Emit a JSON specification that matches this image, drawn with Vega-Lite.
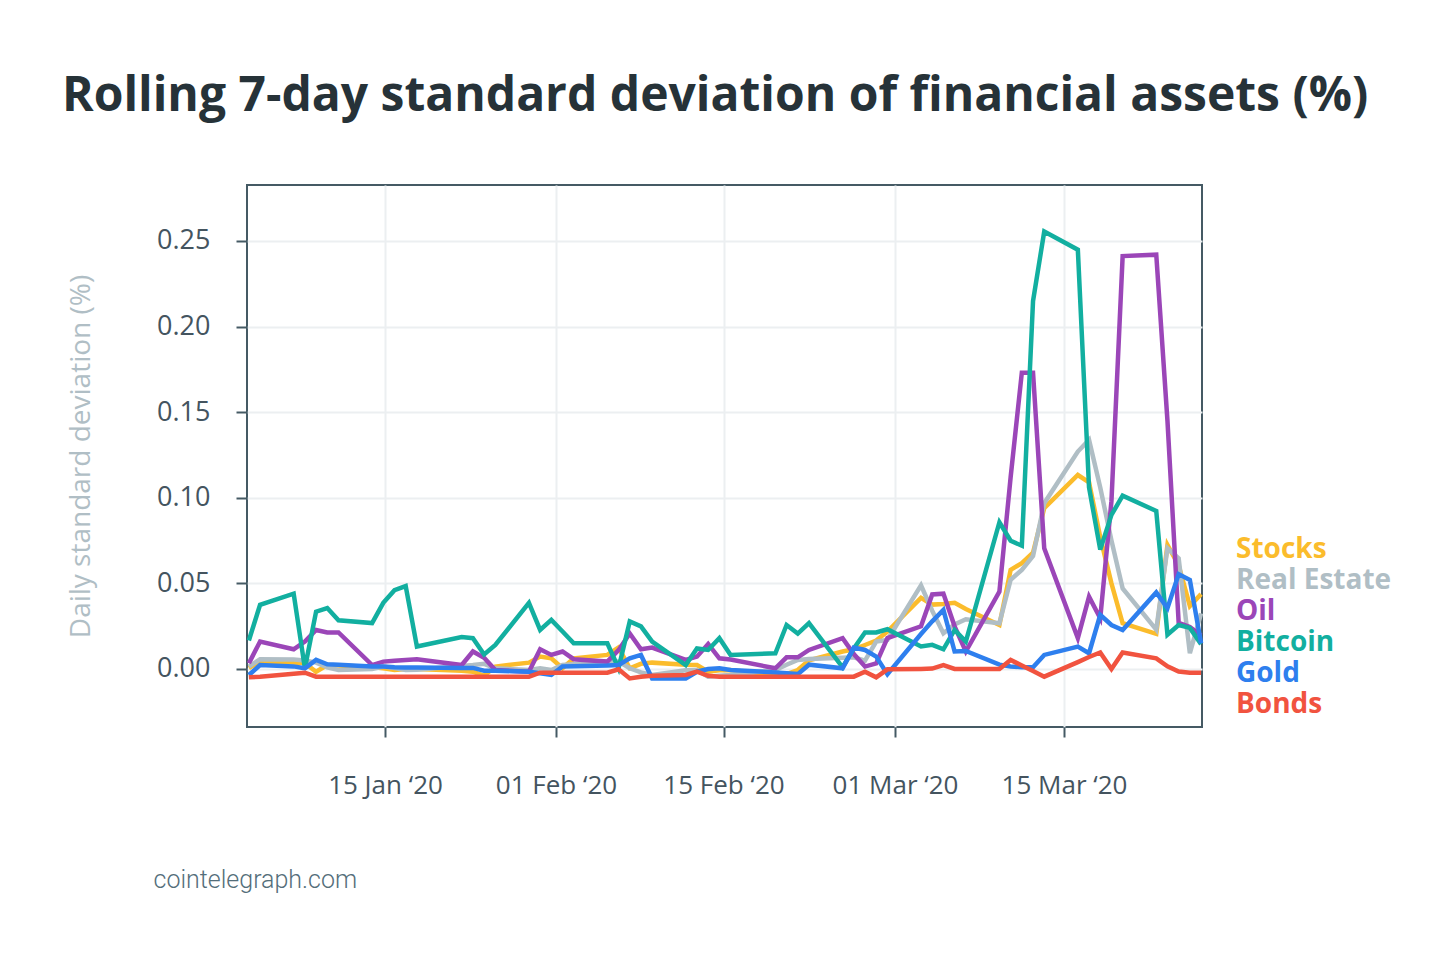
{
"$schema": "https://vega.github.io/schema/vega-lite/v6.json",
"width": 955,
"height": 542,
"autosize": {"type": "none"},
"padding": {"left": 247, "top": 185, "right": 248, "bottom": 234},
"background": "white",
"title": {"text": "Rolling 7-day standard deviation of financial assets (%)", "anchor": "start", "frame": "group", "dx": -185, "offset": 26, "baseline": "alphabetic", "font": "Open Sans", "fontSize": 48, "fontWeight": "bold", "color": "#263238"},
"config": {
  "view": {"stroke": "#455A64", "strokeWidth": 2},
  "axis": {"domain": false, "grid": true, "gridColor": "#ECEFF1", "gridWidth": 2, "tickColor": "#455A64", "tickWidth": 2, "labelFont": "Open Sans", "labelFontSize": 26, "labelColor": "#44545F"}
},
"data": {"values": [
{"date":"2020-01-02T00:00","asset":"Stocks","sd":0.0006},
{"date":"2020-01-03T00:00","asset":"Stocks","sd":0.0043},
{"date":"2020-01-06T00:00","asset":"Stocks","sd":0.0038},
{"date":"2020-01-07T00:00","asset":"Stocks","sd":0.0033},
{"date":"2020-01-08T00:00","asset":"Stocks","sd":-0.0016},
{"date":"2020-01-09T00:00","asset":"Stocks","sd":0.0023},
{"date":"2020-01-10T00:00","asset":"Stocks","sd":0.002},
{"date":"2020-01-13T00:00","asset":"Stocks","sd":0.0012},
{"date":"2020-01-14T00:00","asset":"Stocks","sd":0.0004},
{"date":"2020-01-15T00:00","asset":"Stocks","sd":-0.0006},
{"date":"2020-01-16T00:00","asset":"Stocks","sd":0.0},
{"date":"2020-01-17T00:00","asset":"Stocks","sd":0.0},
{"date":"2020-01-21T00:00","asset":"Stocks","sd":-0.001},
{"date":"2020-01-22T00:00","asset":"Stocks","sd":-0.0016},
{"date":"2020-01-23T00:00","asset":"Stocks","sd":-0.004},
{"date":"2020-01-24T00:00","asset":"Stocks","sd":0.0014},
{"date":"2020-01-27T00:00","asset":"Stocks","sd":0.0037},
{"date":"2020-01-28T00:00","asset":"Stocks","sd":0.0072},
{"date":"2020-01-29T00:00","asset":"Stocks","sd":0.0062},
{"date":"2020-01-30T00:00","asset":"Stocks","sd":0.0004},
{"date":"2020-01-31T00:00","asset":"Stocks","sd":0.0062},
{"date":"2020-02-03T00:00","asset":"Stocks","sd":0.0082},
{"date":"2020-02-04T00:00","asset":"Stocks","sd":0.0125},
{"date":"2020-02-05T00:00","asset":"Stocks","sd":0.0004},
{"date":"2020-02-06T00:00","asset":"Stocks","sd":0.003},
{"date":"2020-02-07T00:00","asset":"Stocks","sd":0.0037},
{"date":"2020-02-10T00:00","asset":"Stocks","sd":0.0025},
{"date":"2020-02-11T00:00","asset":"Stocks","sd":0.0023},
{"date":"2020-02-12T00:00","asset":"Stocks","sd":-0.0016},
{"date":"2020-02-13T00:00","asset":"Stocks","sd":-0.0008},
{"date":"2020-02-14T00:00","asset":"Stocks","sd":-0.0006},
{"date":"2020-02-18T00:00","asset":"Stocks","sd":-0.0035},
{"date":"2020-02-19T00:00","asset":"Stocks","sd":-0.003},
{"date":"2020-02-20T00:00","asset":"Stocks","sd":-0.0006},
{"date":"2020-02-21T00:00","asset":"Stocks","sd":0.005},
{"date":"2020-02-24T00:00","asset":"Stocks","sd":0.0102},
{"date":"2020-02-25T00:00","asset":"Stocks","sd":0.0115},
{"date":"2020-02-26T00:00","asset":"Stocks","sd":0.014},
{"date":"2020-02-27T00:00","asset":"Stocks","sd":0.0166},
{"date":"2020-02-28T00:00","asset":"Stocks","sd":0.0219},
{"date":"2020-03-02T00:00","asset":"Stocks","sd":0.0415},
{"date":"2020-03-03T00:00","asset":"Stocks","sd":0.0376},
{"date":"2020-03-04T00:00","asset":"Stocks","sd":0.038},
{"date":"2020-03-05T00:00","asset":"Stocks","sd":0.0386},
{"date":"2020-03-06T00:00","asset":"Stocks","sd":0.035},
{"date":"2020-03-09T00:00","asset":"Stocks","sd":0.0257},
{"date":"2020-03-10T00:00","asset":"Stocks","sd":0.0579},
{"date":"2020-03-11T00:00","asset":"Stocks","sd":0.0618},
{"date":"2020-03-12T00:00","asset":"Stocks","sd":0.068},
{"date":"2020-03-13T00:00","asset":"Stocks","sd":0.0939},
{"date":"2020-03-16T00:00","asset":"Stocks","sd":0.1133},
{"date":"2020-03-17T00:00","asset":"Stocks","sd":0.109},
{"date":"2020-03-18T00:00","asset":"Stocks","sd":0.077},
{"date":"2020-03-19T00:00","asset":"Stocks","sd":0.05},
{"date":"2020-03-20T00:00","asset":"Stocks","sd":0.0267},
{"date":"2020-03-23T00:00","asset":"Stocks","sd":0.0205},
{"date":"2020-03-24T00:00","asset":"Stocks","sd":0.0724},
{"date":"2020-03-25T00:00","asset":"Stocks","sd":0.0605},
{"date":"2020-03-26T00:00","asset":"Stocks","sd":0.0368},
{"date":"2020-03-27T00:00","asset":"Stocks","sd":0.0437},
{"date":"2020-01-02T00:00","asset":"Real Estate","sd":0.0014},
{"date":"2020-01-03T00:00","asset":"Real Estate","sd":0.0057},
{"date":"2020-01-06T00:00","asset":"Real Estate","sd":0.0055},
{"date":"2020-01-07T00:00","asset":"Real Estate","sd":0.005},
{"date":"2020-01-08T00:00","asset":"Real Estate","sd":0.0037},
{"date":"2020-01-09T00:00","asset":"Real Estate","sd":0.001},
{"date":"2020-01-10T00:00","asset":"Real Estate","sd":-0.0006},
{"date":"2020-01-13T00:00","asset":"Real Estate","sd":0.0},
{"date":"2020-01-14T00:00","asset":"Real Estate","sd":0.0014},
{"date":"2020-01-15T00:00","asset":"Real Estate","sd":0.0005},
{"date":"2020-01-16T00:00","asset":"Real Estate","sd":-0.0006},
{"date":"2020-01-17T00:00","asset":"Real Estate","sd":-0.0004},
{"date":"2020-01-21T00:00","asset":"Real Estate","sd":0.0018},
{"date":"2020-01-22T00:00","asset":"Real Estate","sd":0.0023},
{"date":"2020-01-23T00:00","asset":"Real Estate","sd":0.003},
{"date":"2020-01-24T00:00","asset":"Real Estate","sd":0.0004},
{"date":"2020-01-27T00:00","asset":"Real Estate","sd":-0.0006},
{"date":"2020-01-28T00:00","asset":"Real Estate","sd":0.0004},
{"date":"2020-01-29T00:00","asset":"Real Estate","sd":-0.0006},
{"date":"2020-01-30T00:00","asset":"Real Estate","sd":0.0023},
{"date":"2020-01-31T00:00","asset":"Real Estate","sd":0.0028},
{"date":"2020-02-03T00:00","asset":"Real Estate","sd":0.004},
{"date":"2020-02-04T00:00","asset":"Real Estate","sd":0.0043},
{"date":"2020-02-05T00:00","asset":"Real Estate","sd":0.0004},
{"date":"2020-02-06T00:00","asset":"Real Estate","sd":-0.002},
{"date":"2020-02-07T00:00","asset":"Real Estate","sd":-0.0035},
{"date":"2020-02-10T00:00","asset":"Real Estate","sd":-0.0008},
{"date":"2020-02-11T00:00","asset":"Real Estate","sd":-0.0006},
{"date":"2020-02-12T00:00","asset":"Real Estate","sd":-0.0045},
{"date":"2020-02-13T00:00","asset":"Real Estate","sd":-0.004},
{"date":"2020-02-14T00:00","asset":"Real Estate","sd":-0.0035},
{"date":"2020-02-18T00:00","asset":"Real Estate","sd":-0.0006},
{"date":"2020-02-19T00:00","asset":"Real Estate","sd":0.0025},
{"date":"2020-02-20T00:00","asset":"Real Estate","sd":0.0053},
{"date":"2020-02-21T00:00","asset":"Real Estate","sd":0.0058},
{"date":"2020-02-24T00:00","asset":"Real Estate","sd":0.0066},
{"date":"2020-02-25T00:00","asset":"Real Estate","sd":0.0068},
{"date":"2020-02-26T00:00","asset":"Real Estate","sd":0.0049},
{"date":"2020-02-27T00:00","asset":"Real Estate","sd":0.016},
{"date":"2020-02-28T00:00","asset":"Real Estate","sd":0.017},
{"date":"2020-03-02T00:00","asset":"Real Estate","sd":0.0488},
{"date":"2020-03-03T00:00","asset":"Real Estate","sd":0.034},
{"date":"2020-03-04T00:00","asset":"Real Estate","sd":0.0209},
{"date":"2020-03-05T00:00","asset":"Real Estate","sd":0.026},
{"date":"2020-03-06T00:00","asset":"Real Estate","sd":0.029},
{"date":"2020-03-09T00:00","asset":"Real Estate","sd":0.0267},
{"date":"2020-03-10T00:00","asset":"Real Estate","sd":0.0521},
{"date":"2020-03-11T00:00","asset":"Real Estate","sd":0.0579},
{"date":"2020-03-12T00:00","asset":"Real Estate","sd":0.066},
{"date":"2020-03-13T00:00","asset":"Real Estate","sd":0.0968},
{"date":"2020-03-16T00:00","asset":"Real Estate","sd":0.127},
{"date":"2020-03-17T00:00","asset":"Real Estate","sd":0.1338},
{"date":"2020-03-18T00:00","asset":"Real Estate","sd":0.106},
{"date":"2020-03-19T00:00","asset":"Real Estate","sd":0.075},
{"date":"2020-03-20T00:00","asset":"Real Estate","sd":0.047},
{"date":"2020-03-23T00:00","asset":"Real Estate","sd":0.023},
{"date":"2020-03-24T00:00","asset":"Real Estate","sd":0.0705},
{"date":"2020-03-25T00:00","asset":"Real Estate","sd":0.0646},
{"date":"2020-03-26T00:00","asset":"Real Estate","sd":0.0092},
{"date":"2020-03-27T00:00","asset":"Real Estate","sd":0.0325},
{"date":"2020-01-02T00:00","asset":"Oil","sd":0.0033},
{"date":"2020-01-03T00:00","asset":"Oil","sd":0.016},
{"date":"2020-01-06T00:00","asset":"Oil","sd":0.0115},
{"date":"2020-01-07T00:00","asset":"Oil","sd":0.016},
{"date":"2020-01-08T00:00","asset":"Oil","sd":0.0228},
{"date":"2020-01-09T00:00","asset":"Oil","sd":0.0213},
{"date":"2020-01-10T00:00","asset":"Oil","sd":0.0213},
{"date":"2020-01-13T00:00","asset":"Oil","sd":0.0023},
{"date":"2020-01-14T00:00","asset":"Oil","sd":0.0043},
{"date":"2020-01-15T00:00","asset":"Oil","sd":0.0048},
{"date":"2020-01-16T00:00","asset":"Oil","sd":0.0053},
{"date":"2020-01-17T00:00","asset":"Oil","sd":0.0057},
{"date":"2020-01-21T00:00","asset":"Oil","sd":0.0023},
{"date":"2020-01-22T00:00","asset":"Oil","sd":0.0102},
{"date":"2020-01-23T00:00","asset":"Oil","sd":0.0065},
{"date":"2020-01-24T00:00","asset":"Oil","sd":-0.0006},
{"date":"2020-01-27T00:00","asset":"Oil","sd":-0.0016},
{"date":"2020-01-28T00:00","asset":"Oil","sd":0.0115},
{"date":"2020-01-29T00:00","asset":"Oil","sd":0.0082},
{"date":"2020-01-30T00:00","asset":"Oil","sd":0.0102},
{"date":"2020-01-31T00:00","asset":"Oil","sd":0.0057},
{"date":"2020-02-03T00:00","asset":"Oil","sd":0.0043},
{"date":"2020-02-04T00:00","asset":"Oil","sd":0.011},
{"date":"2020-02-05T00:00","asset":"Oil","sd":0.0207},
{"date":"2020-02-06T00:00","asset":"Oil","sd":0.0115},
{"date":"2020-02-07T00:00","asset":"Oil","sd":0.0125},
{"date":"2020-02-10T00:00","asset":"Oil","sd":0.0053},
{"date":"2020-02-11T00:00","asset":"Oil","sd":0.0072},
{"date":"2020-02-12T00:00","asset":"Oil","sd":0.0146},
{"date":"2020-02-13T00:00","asset":"Oil","sd":0.0062},
{"date":"2020-02-14T00:00","asset":"Oil","sd":0.0055},
{"date":"2020-02-18T00:00","asset":"Oil","sd":0.0004},
{"date":"2020-02-19T00:00","asset":"Oil","sd":0.0068},
{"date":"2020-02-20T00:00","asset":"Oil","sd":0.0068},
{"date":"2020-02-21T00:00","asset":"Oil","sd":0.0111},
{"date":"2020-02-24T00:00","asset":"Oil","sd":0.018},
{"date":"2020-02-25T00:00","asset":"Oil","sd":0.0087},
{"date":"2020-02-26T00:00","asset":"Oil","sd":0.0014},
{"date":"2020-02-27T00:00","asset":"Oil","sd":0.0033},
{"date":"2020-02-28T00:00","asset":"Oil","sd":0.018},
{"date":"2020-03-02T00:00","asset":"Oil","sd":0.0249},
{"date":"2020-03-03T00:00","asset":"Oil","sd":0.0435},
{"date":"2020-03-04T00:00","asset":"Oil","sd":0.044},
{"date":"2020-03-05T00:00","asset":"Oil","sd":0.0249},
{"date":"2020-03-06T00:00","asset":"Oil","sd":0.0102},
{"date":"2020-03-09T00:00","asset":"Oil","sd":0.0452},
{"date":"2020-03-10T00:00","asset":"Oil","sd":0.112},
{"date":"2020-03-11T00:00","asset":"Oil","sd":0.1731},
{"date":"2020-03-12T00:00","asset":"Oil","sd":0.1731},
{"date":"2020-03-13T00:00","asset":"Oil","sd":0.0705},
{"date":"2020-03-16T00:00","asset":"Oil","sd":0.018},
{"date":"2020-03-17T00:00","asset":"Oil","sd":0.0422},
{"date":"2020-03-18T00:00","asset":"Oil","sd":0.0296},
{"date":"2020-03-19T00:00","asset":"Oil","sd":0.098},
{"date":"2020-03-20T00:00","asset":"Oil","sd":0.2412},
{"date":"2020-03-23T00:00","asset":"Oil","sd":0.242},
{"date":"2020-03-24T00:00","asset":"Oil","sd":0.145},
{"date":"2020-03-25T00:00","asset":"Oil","sd":0.027},
{"date":"2020-03-26T00:00","asset":"Oil","sd":0.0245},
{"date":"2020-03-27T00:00","asset":"Oil","sd":0.0195},
{"date":"2020-01-02T00:00","asset":"Bitcoin","sd":0.0166},
{"date":"2020-01-03T00:00","asset":"Bitcoin","sd":0.0375},
{"date":"2020-01-06T00:00","asset":"Bitcoin","sd":0.044},
{"date":"2020-01-07T00:00","asset":"Bitcoin","sd":0.0004},
{"date":"2020-01-08T00:00","asset":"Bitcoin","sd":0.0335},
{"date":"2020-01-09T00:00","asset":"Bitcoin","sd":0.0356},
{"date":"2020-01-10T00:00","asset":"Bitcoin","sd":0.0284},
{"date":"2020-01-13T00:00","asset":"Bitcoin","sd":0.0268},
{"date":"2020-01-14T00:00","asset":"Bitcoin","sd":0.0386},
{"date":"2020-01-15T00:00","asset":"Bitcoin","sd":0.046},
{"date":"2020-01-16T00:00","asset":"Bitcoin","sd":0.0484},
{"date":"2020-01-17T00:00","asset":"Bitcoin","sd":0.0131},
{"date":"2020-01-21T00:00","asset":"Bitcoin","sd":0.0186},
{"date":"2020-01-22T00:00","asset":"Bitcoin","sd":0.018},
{"date":"2020-01-23T00:00","asset":"Bitcoin","sd":0.0085},
{"date":"2020-01-24T00:00","asset":"Bitcoin","sd":0.014},
{"date":"2020-01-27T00:00","asset":"Bitcoin","sd":0.0386},
{"date":"2020-01-28T00:00","asset":"Bitcoin","sd":0.0228},
{"date":"2020-01-29T00:00","asset":"Bitcoin","sd":0.0287},
{"date":"2020-01-30T00:00","asset":"Bitcoin","sd":0.0219},
{"date":"2020-01-31T00:00","asset":"Bitcoin","sd":0.015},
{"date":"2020-02-03T00:00","asset":"Bitcoin","sd":0.015},
{"date":"2020-02-04T00:00","asset":"Bitcoin","sd":0.0004},
{"date":"2020-02-05T00:00","asset":"Bitcoin","sd":0.0278},
{"date":"2020-02-06T00:00","asset":"Bitcoin","sd":0.0249},
{"date":"2020-02-07T00:00","asset":"Bitcoin","sd":0.016},
{"date":"2020-02-10T00:00","asset":"Bitcoin","sd":0.0023},
{"date":"2020-02-11T00:00","asset":"Bitcoin","sd":0.012},
{"date":"2020-02-12T00:00","asset":"Bitcoin","sd":0.0111},
{"date":"2020-02-13T00:00","asset":"Bitcoin","sd":0.018},
{"date":"2020-02-14T00:00","asset":"Bitcoin","sd":0.0082},
{"date":"2020-02-18T00:00","asset":"Bitcoin","sd":0.0092},
{"date":"2020-02-19T00:00","asset":"Bitcoin","sd":0.0257},
{"date":"2020-02-20T00:00","asset":"Bitcoin","sd":0.0207},
{"date":"2020-02-21T00:00","asset":"Bitcoin","sd":0.0268},
{"date":"2020-02-24T00:00","asset":"Bitcoin","sd":0.001},
{"date":"2020-02-25T00:00","asset":"Bitcoin","sd":0.012},
{"date":"2020-02-26T00:00","asset":"Bitcoin","sd":0.0213},
{"date":"2020-02-27T00:00","asset":"Bitcoin","sd":0.0213},
{"date":"2020-02-28T00:00","asset":"Bitcoin","sd":0.0232},
{"date":"2020-03-02T00:00","asset":"Bitcoin","sd":0.0131},
{"date":"2020-03-03T00:00","asset":"Bitcoin","sd":0.0141},
{"date":"2020-03-04T00:00","asset":"Bitcoin","sd":0.0115},
{"date":"2020-03-05T00:00","asset":"Bitcoin","sd":0.0228},
{"date":"2020-03-06T00:00","asset":"Bitcoin","sd":0.016},
{"date":"2020-03-09T00:00","asset":"Bitcoin","sd":0.0857},
{"date":"2020-03-10T00:00","asset":"Bitcoin","sd":0.0749},
{"date":"2020-03-11T00:00","asset":"Bitcoin","sd":0.072},
{"date":"2020-03-12T00:00","asset":"Bitcoin","sd":0.2149},
{"date":"2020-03-13T00:00","asset":"Bitcoin","sd":0.2555},
{"date":"2020-03-16T00:00","asset":"Bitcoin","sd":0.2449},
{"date":"2020-03-17T00:00","asset":"Bitcoin","sd":0.106},
{"date":"2020-03-18T00:00","asset":"Bitcoin","sd":0.0697},
{"date":"2020-03-19T00:00","asset":"Bitcoin","sd":0.09},
{"date":"2020-03-20T00:00","asset":"Bitcoin","sd":0.1012},
{"date":"2020-03-23T00:00","asset":"Bitcoin","sd":0.0923},
{"date":"2020-03-24T00:00","asset":"Bitcoin","sd":0.02},
{"date":"2020-03-25T00:00","asset":"Bitcoin","sd":0.0257},
{"date":"2020-03-26T00:00","asset":"Bitcoin","sd":0.024},
{"date":"2020-03-27T00:00","asset":"Bitcoin","sd":0.0145},
{"date":"2020-01-02T00:00","asset":"Gold","sd":-0.0035},
{"date":"2020-01-03T00:00","asset":"Gold","sd":0.0023},
{"date":"2020-01-06T00:00","asset":"Gold","sd":0.0015},
{"date":"2020-01-07T00:00","asset":"Gold","sd":0.0004},
{"date":"2020-01-08T00:00","asset":"Gold","sd":0.0053},
{"date":"2020-01-09T00:00","asset":"Gold","sd":0.0027},
{"date":"2020-01-10T00:00","asset":"Gold","sd":0.0025},
{"date":"2020-01-13T00:00","asset":"Gold","sd":0.0015},
{"date":"2020-01-14T00:00","asset":"Gold","sd":0.0014},
{"date":"2020-01-15T00:00","asset":"Gold","sd":0.001},
{"date":"2020-01-16T00:00","asset":"Gold","sd":0.0008},
{"date":"2020-01-17T00:00","asset":"Gold","sd":0.0008},
{"date":"2020-01-21T00:00","asset":"Gold","sd":0.0006},
{"date":"2020-01-22T00:00","asset":"Gold","sd":0.0006},
{"date":"2020-01-23T00:00","asset":"Gold","sd":-0.001},
{"date":"2020-01-24T00:00","asset":"Gold","sd":-0.001},
{"date":"2020-01-27T00:00","asset":"Gold","sd":-0.0016},
{"date":"2020-01-28T00:00","asset":"Gold","sd":-0.0025},
{"date":"2020-01-29T00:00","asset":"Gold","sd":-0.0035},
{"date":"2020-01-30T00:00","asset":"Gold","sd":0.0014},
{"date":"2020-01-31T00:00","asset":"Gold","sd":0.0016},
{"date":"2020-02-03T00:00","asset":"Gold","sd":0.002},
{"date":"2020-02-04T00:00","asset":"Gold","sd":0.0023},
{"date":"2020-02-05T00:00","asset":"Gold","sd":0.0062},
{"date":"2020-02-06T00:00","asset":"Gold","sd":0.0082},
{"date":"2020-02-07T00:00","asset":"Gold","sd":-0.0055},
{"date":"2020-02-10T00:00","asset":"Gold","sd":-0.0055},
{"date":"2020-02-11T00:00","asset":"Gold","sd":-0.0016},
{"date":"2020-02-12T00:00","asset":"Gold","sd":0.0},
{"date":"2020-02-13T00:00","asset":"Gold","sd":0.0004},
{"date":"2020-02-14T00:00","asset":"Gold","sd":-0.0006},
{"date":"2020-02-18T00:00","asset":"Gold","sd":-0.002},
{"date":"2020-02-19T00:00","asset":"Gold","sd":-0.0025},
{"date":"2020-02-20T00:00","asset":"Gold","sd":-0.003},
{"date":"2020-02-21T00:00","asset":"Gold","sd":0.0025},
{"date":"2020-02-24T00:00","asset":"Gold","sd":0.0004},
{"date":"2020-02-25T00:00","asset":"Gold","sd":0.0125},
{"date":"2020-02-26T00:00","asset":"Gold","sd":0.0111},
{"date":"2020-02-27T00:00","asset":"Gold","sd":0.0072},
{"date":"2020-02-28T00:00","asset":"Gold","sd":-0.003},
{"date":"2020-03-02T00:00","asset":"Gold","sd":0.0204},
{"date":"2020-03-03T00:00","asset":"Gold","sd":0.0278},
{"date":"2020-03-04T00:00","asset":"Gold","sd":0.0345},
{"date":"2020-03-05T00:00","asset":"Gold","sd":0.0102},
{"date":"2020-03-06T00:00","asset":"Gold","sd":0.0105},
{"date":"2020-03-09T00:00","asset":"Gold","sd":0.0025},
{"date":"2020-03-10T00:00","asset":"Gold","sd":0.0015},
{"date":"2020-03-11T00:00","asset":"Gold","sd":0.001},
{"date":"2020-03-12T00:00","asset":"Gold","sd":0.001},
{"date":"2020-03-13T00:00","asset":"Gold","sd":0.0082},
{"date":"2020-03-16T00:00","asset":"Gold","sd":0.0131},
{"date":"2020-03-17T00:00","asset":"Gold","sd":0.0092},
{"date":"2020-03-18T00:00","asset":"Gold","sd":0.0316},
{"date":"2020-03-19T00:00","asset":"Gold","sd":0.0257},
{"date":"2020-03-20T00:00","asset":"Gold","sd":0.0228},
{"date":"2020-03-23T00:00","asset":"Gold","sd":0.0447},
{"date":"2020-03-24T00:00","asset":"Gold","sd":0.0355},
{"date":"2020-03-25T00:00","asset":"Gold","sd":0.0554},
{"date":"2020-03-26T00:00","asset":"Gold","sd":0.052},
{"date":"2020-03-27T00:00","asset":"Gold","sd":0.015},
{"date":"2020-01-02T00:00","asset":"Bonds","sd":-0.0049},
{"date":"2020-01-03T00:00","asset":"Bonds","sd":-0.0045},
{"date":"2020-01-06T00:00","asset":"Bonds","sd":-0.0028},
{"date":"2020-01-07T00:00","asset":"Bonds","sd":-0.0022},
{"date":"2020-01-08T00:00","asset":"Bonds","sd":-0.0045},
{"date":"2020-01-09T00:00","asset":"Bonds","sd":-0.0045},
{"date":"2020-01-10T00:00","asset":"Bonds","sd":-0.0045},
{"date":"2020-01-13T00:00","asset":"Bonds","sd":-0.0045},
{"date":"2020-01-14T00:00","asset":"Bonds","sd":-0.0045},
{"date":"2020-01-15T00:00","asset":"Bonds","sd":-0.0045},
{"date":"2020-01-16T00:00","asset":"Bonds","sd":-0.0045},
{"date":"2020-01-17T00:00","asset":"Bonds","sd":-0.0045},
{"date":"2020-01-21T00:00","asset":"Bonds","sd":-0.0045},
{"date":"2020-01-22T00:00","asset":"Bonds","sd":-0.0045},
{"date":"2020-01-23T00:00","asset":"Bonds","sd":-0.0045},
{"date":"2020-01-24T00:00","asset":"Bonds","sd":-0.0045},
{"date":"2020-01-27T00:00","asset":"Bonds","sd":-0.0045},
{"date":"2020-01-28T00:00","asset":"Bonds","sd":-0.0022},
{"date":"2020-01-29T00:00","asset":"Bonds","sd":-0.0022},
{"date":"2020-01-30T00:00","asset":"Bonds","sd":-0.0022},
{"date":"2020-01-31T00:00","asset":"Bonds","sd":-0.0022},
{"date":"2020-02-03T00:00","asset":"Bonds","sd":-0.0022},
{"date":"2020-02-04T00:00","asset":"Bonds","sd":-0.0002},
{"date":"2020-02-05T00:00","asset":"Bonds","sd":-0.0055},
{"date":"2020-02-06T00:00","asset":"Bonds","sd":-0.0045},
{"date":"2020-02-07T00:00","asset":"Bonds","sd":-0.004},
{"date":"2020-02-10T00:00","asset":"Bonds","sd":-0.0035},
{"date":"2020-02-11T00:00","asset":"Bonds","sd":-0.0015},
{"date":"2020-02-12T00:00","asset":"Bonds","sd":-0.004},
{"date":"2020-02-13T00:00","asset":"Bonds","sd":-0.0045},
{"date":"2020-02-14T00:00","asset":"Bonds","sd":-0.0045},
{"date":"2020-02-18T00:00","asset":"Bonds","sd":-0.0045},
{"date":"2020-02-19T00:00","asset":"Bonds","sd":-0.0045},
{"date":"2020-02-20T00:00","asset":"Bonds","sd":-0.0045},
{"date":"2020-02-21T00:00","asset":"Bonds","sd":-0.0045},
{"date":"2020-02-24T00:00","asset":"Bonds","sd":-0.0045},
{"date":"2020-02-25T00:00","asset":"Bonds","sd":-0.0045},
{"date":"2020-02-26T00:00","asset":"Bonds","sd":-0.0016},
{"date":"2020-02-27T00:00","asset":"Bonds","sd":-0.0049},
{"date":"2020-02-28T00:00","asset":"Bonds","sd":-0.0002},
{"date":"2020-03-02T00:00","asset":"Bonds","sd":0.0},
{"date":"2020-03-03T00:00","asset":"Bonds","sd":0.0002},
{"date":"2020-03-04T00:00","asset":"Bonds","sd":0.0023},
{"date":"2020-03-05T00:00","asset":"Bonds","sd":0.0},
{"date":"2020-03-06T00:00","asset":"Bonds","sd":0.0},
{"date":"2020-03-09T00:00","asset":"Bonds","sd":0.0},
{"date":"2020-03-10T00:00","asset":"Bonds","sd":0.0053},
{"date":"2020-03-11T00:00","asset":"Bonds","sd":0.002},
{"date":"2020-03-12T00:00","asset":"Bonds","sd":-0.0012},
{"date":"2020-03-13T00:00","asset":"Bonds","sd":-0.0045},
{"date":"2020-03-16T00:00","asset":"Bonds","sd":0.004},
{"date":"2020-03-17T00:00","asset":"Bonds","sd":0.007},
{"date":"2020-03-18T00:00","asset":"Bonds","sd":0.0096},
{"date":"2020-03-19T00:00","asset":"Bonds","sd":0.0},
{"date":"2020-03-20T00:00","asset":"Bonds","sd":0.0096},
{"date":"2020-03-23T00:00","asset":"Bonds","sd":0.0062},
{"date":"2020-03-24T00:00","asset":"Bonds","sd":0.0015},
{"date":"2020-03-25T00:00","asset":"Bonds","sd":-0.0015},
{"date":"2020-03-26T00:00","asset":"Bonds","sd":-0.0022},
{"date":"2020-03-27T00:00","asset":"Bonds","sd":-0.0022}
]},
"mark": {"type": "line", "strokeWidth": 4.5},
"encoding": {
  "x": {
    "field": "date", "type": "temporal",
    "scale": {"domain": [{"year": 2020, "month": 1, "date": 1, "hours": 20}, {"year": 2020, "month": 3, "date": 27, "hours": 2}]},
    "axis": {
      "values": [
        {"year": 2020, "month": 1, "date": 14, "hours": 3, "minutes": 40},
        {"year": 2020, "month": 1, "date": 29, "hours": 10},
        {"year": 2020, "month": 2, "date": 13, "hours": 8, "minutes": 54},
        {"year": 2020, "month": 2, "date": 28, "hours": 16, "minutes": 20},
        {"year": 2020, "month": 3, "date": 14, "hours": 18, "minutes": 24}
      ],
      "labelExpr": "month(datum.value) == 0 && date(datum.value) < 20 ? '15 Jan ‘20' : month(datum.value) == 0 ? '01 Feb ‘20' : month(datum.value) == 1 && date(datum.value) < 20 ? '15 Feb ‘20' : month(datum.value) == 1 ? '01 Mar ‘20' : '15 Mar ‘20'",
      "tickSize": 10, "labelPadding": 56, "labelBaseline": "alphabetic", "labelAlign": "center", "labelFlush": false, "labelOverlap": false,
      "title": "cointelegraph.com", "titleFont": "Roboto", "titleFontWeight": 300, "titleFontSize": 25, "titleColor": "#546E7A",
      "titleX": -94, "titleY": 160, "titleAlign": "left", "titleAnchor": "start", "titleBaseline": "alphabetic"
    }
  },
  "y": {
    "field": "sd", "type": "quantitative",
    "scale": {"domain": [-0.0339, 0.2827], "nice": false, "zero": false},
    "axis": {
      "values": [0, 0.05, 0.1, 0.15, 0.2, 0.25], "format": ".2f",
      "tickSize": 11, "labelPadding": 26, "labelFontSize": 27,
      "title": "Daily standard deviation (%)", "titleFont": "Open Sans", "titleFontSize": 28, "titleFontWeight": "normal", "titleColor": "#B0BEC5",
      "titleX": -158, "titleY": 271, "titleAngle": -90, "titleAlign": "center", "titleBaseline": "alphabetic"
    }
  },
  "color": {
    "field": "asset", "type": "nominal",
    "scale": {"domain": ["Stocks", "Real Estate", "Oil", "Bitcoin", "Gold", "Bonds"], "range": ["#FBBC2C", "#B0BEC5", "#9B46B8", "#12AFA0", "#2E7FEE", "#F1533F"]},
    "legend": {
      "orient": "none", "legendX": 961, "legendY": 351, "title": null, "padding": 0,
      "labelFont": "Open Sans", "labelFontSize": 28, "labelFontWeight": "bold", "labelOffset": 0,
      "symbolSize": 0, "symbolStrokeWidth": 0, "symbolOpacity": 0, "rowPadding": 3,
      "encode": {"labels": {"update": {"fill": {"scale": "color", "field": "value"}}}}
    }
  }
}
}
